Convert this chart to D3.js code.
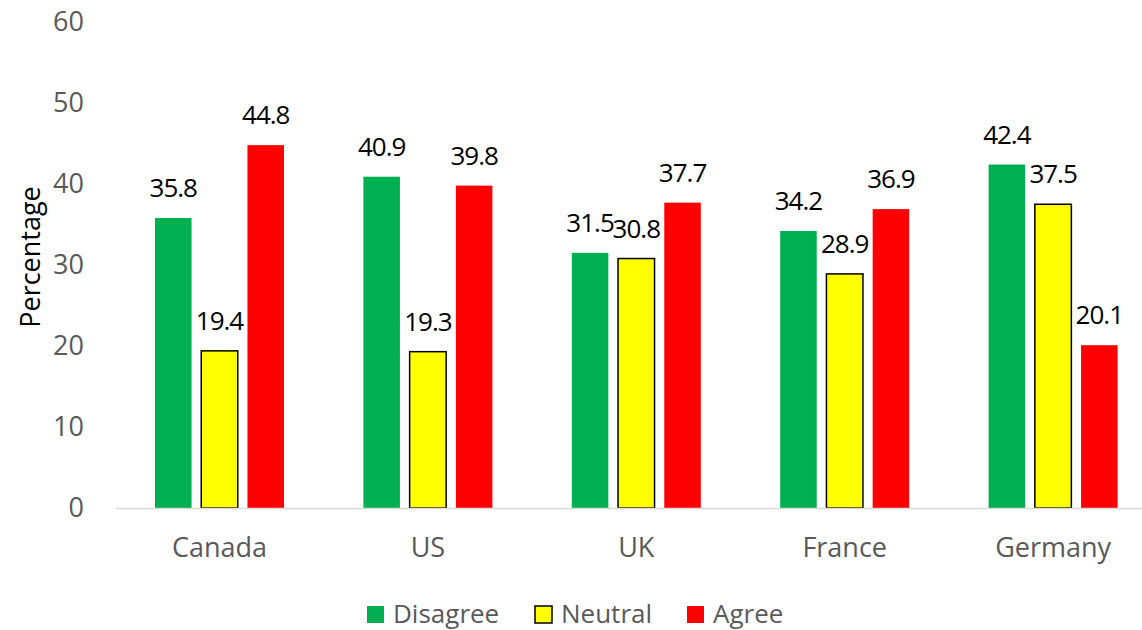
<!DOCTYPE html>
<html>
<head>
<meta charset="utf-8">
<script src="https://cdn.jsdelivr.net/npm/d3@7"></script>
<style>
  html, body { margin: 0; padding: 0; background: #fff; }
  svg { display: block; }
  text { font-family: "Open Sans", "Noto Sans", sans-serif; }
</style>
</head>
<body>
<svg id="chart" width="1142" height="630"></svg>
<script>
const categories = ["Canada", "US", "UK", "France", "Germany"];
const seriesNames = ["Disagree", "Neutral", "Agree"];
const disagree = [35.8, 40.9, 31.5, 34.2, 42.4];
const neutral  = [19.4, 19.3, 30.8, 28.9, 37.5];
const agree    = [44.8, 39.8, 37.7, 36.9, 20.1];
const yTicks = [0, 10, 20, 30, 40, 50, 60];

const seriesValues = [disagree, neutral, agree];
const colors = { Disagree: "#00B050", Neutral: "#FFFF00", Agree: "#FF0000" };
const strokes = { Disagree: "none", Neutral: "#000000", Agree: "none" };

const svg = d3.select("#chart");
const fontSize = 27;

const x0 = d3.scaleBand().domain(categories).range([115.3, 1157.3])
  .paddingInner(0.381).paddingOuter(0.1905);
const x1 = d3.scaleBand().domain(seriesNames).range([0, x0.bandwidth()])
  .paddingInner(0.21).paddingOuter(0);
const y = d3.scaleLinear().domain([0, 60]).range([508, 22]);

// y tick labels (no axis line)
const yAxis = d3.axisLeft(y).tickValues(yTicks).tickSize(0).tickPadding(0);
const yg = svg.append("g").attr("transform", "translate(84,0)").call(yAxis);
yg.select(".domain").remove();
yg.selectAll("text").attr("font-size", fontSize).attr("fill", "#595959")
  .style("font-family", "'Open Sans', sans-serif");

// y title
svg.append("text")
  .attr("transform", "translate(29,257) rotate(-90)")
  .attr("text-anchor", "middle").attr("dominant-baseline", "central")
  .attr("font-size", fontSize).attr("fill", "#000")
  .text("Percentage");

// bars
const data = [];
categories.forEach((c, i) => {
  seriesNames.forEach((s, j) => data.push({ cat: c, series: s, value: seriesValues[j][i] }));
});

const bars = svg.append("g");
bars.selectAll("rect").data(data).join("rect")
  .attr("x", d => x0(d.cat) + x1(d.series))
  .attr("y", d => y(d.value))
  .attr("width", x1.bandwidth())
  .attr("height", d => y(0) - y(d.value))
  .attr("fill", d => colors[d.series])
  .attr("stroke", d => strokes[d.series])
  .attr("stroke-width", 1.5);

// x axis
const xAxis = d3.axisBottom(x0).tickSize(0).tickPadding(30);
const xg = svg.append("g").attr("transform", "translate(0,508)").call(xAxis);
xg.select(".domain").attr("stroke", "#D9D9D9").attr("stroke-width", 1.5);
xg.selectAll("text").attr("font-size", fontSize).attr("fill", "#595959")
  .style("font-family", "'Open Sans', sans-serif");

// data labels
svg.append("g").selectAll("text").data(data).join("text")
  .attr("x", d => x0(d.cat) + x1(d.series) + x1.bandwidth() / 2)
  .attr("y", d => y(d.value) - 21)
  .attr("text-anchor", "middle")
  .attr("font-size", 26).attr("letter-spacing", -1).attr("fill", "#000")
  .text(d => d.value.toFixed(1));

// legend
const legendItems = [
  { name: "Disagree", sx: 367 },
  { name: "Neutral", sx: 535 },
  { name: "Agree", sx: 687 }
];
const lg = svg.append("g");
legendItems.forEach(it => {
  lg.append("rect").attr("x", it.sx).attr("y", 606).attr("width", 17).attr("height", 17)
    .attr("fill", colors[it.name]).attr("stroke", strokes[it.name]).attr("stroke-width", 1.5);
  lg.append("text").attr("x", it.sx + 26).attr("y", 623)
    .attr("font-size", 26).attr("fill", "#595959").text(it.name);
});
</script>
</body>
</html>
